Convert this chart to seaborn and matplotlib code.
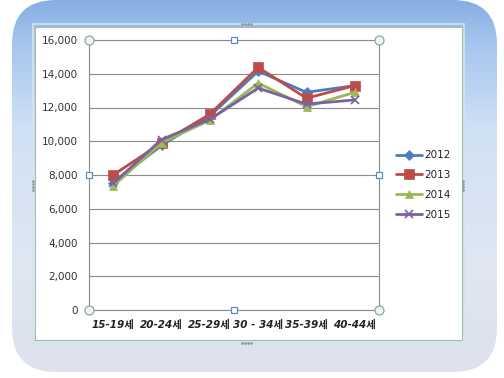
import numpy as np
import pandas as pd
import matplotlib
matplotlib.use("Agg")
import matplotlib.pyplot as plt
from matplotlib.patches import FancyBboxPatch, Rectangle
from matplotlib.colors import LinearSegmentedColormap
from matplotlib.ticker import FuncFormatter, FixedLocator
import seaborn as sns

# Age groups and births per year
age_groups = ["15-19세", "20-24세", "25-29세", "30 - 34세", "35-39세", "40-44세"]
years = ["2012", "2013", "2014", "2015"]
v2012 = [7550, 9750, 11500, 14150, 12900, 13300]
v2013 = [8000, 9900, 11600, 14380, 12550, 13300]
v2014 = [7350, 9900, 11250, 13450, 12050, 12900]
v2015 = [7500, 10100, 11300, 13150, 12200, 12450]

series = {"2012": v2012, "2013": v2013, "2014": v2014, "2015": v2015}
colors = {"2012": "#4A7EBB", "2013": "#BE4B48", "2014": "#98B954", "2015": "#7D60A0"}
markers = {"2012": "D", "2013": "s", "2014": "^", "2015": "x"}
msizes = {"2012": 5, "2013": 6.5, "2014": 6, "2015": 6}

df = pd.DataFrame(
    [(i, age_groups[i], y, series[y][i]) for y in years for i in range(len(age_groups))],
    columns=["pos", "age", "year", "value"],
)

sns.set_style("white")
plt.rcParams["font.family"] = ["DejaVu Sans", "Noto Sans CJK KR"]

fig = plt.figure(figsize=(5.04, 3.78), dpi=100)
fig.patch.set_facecolor("white")

# Background: rounded frame with vertical blue gradient
bg = fig.add_axes([0, 0, 1, 1])
bg.set_xlim(0, 504)
bg.set_ylim(378, 0)
bg.axis("off")
cmap = LinearSegmentedColormap.from_list(
    "frame",
    [(0.0, "#86afe4"), (0.12, "#a7c6ee"), (0.35, "#d0e1f5"),
     (0.7, "#dfe7f3"), (1.0, "#dde2ec")],
)
grad = np.linspace(0, 1, 256).reshape(-1, 1)
frame = FancyBboxPatch((12, 0), 485, 372, boxstyle="round,pad=0,rounding_size=44",
                       transform=bg.transData, facecolor="none", edgecolor="none")
bg.add_patch(frame)
im = bg.imshow(grad, cmap=cmap, aspect="auto", extent=[12, 497, 372, 0], zorder=0)
im.set_clip_path(frame)

# Chart area
bg.add_patch(Rectangle((33, 24), 431, 319, facecolor="none", edgecolor="#d3e6e6", lw=1.2, zorder=1))
bg.add_patch(Rectangle((35, 27), 427, 313, facecolor="white", edgecolor="#a9b7b7", lw=0.8, zorder=2))
for (hx, hy) in [(246, 24), (246, 343)]:
    bg.plot([hx - 4.5, hx - 1.5, hx + 1.5, hx + 4.5], [hy] * 4, ls="none", marker="o",
            ms=0.9, color="#8a9a9a", zorder=3)
for (hx, hy) in [(33, 185), (463, 185)]:
    bg.plot([hx] * 4, [hy - 4.5, hy - 1.5, hy + 1.5, hy + 4.5], ls="none", marker="o",
            ms=0.9, color="#8a9a9a", zorder=3)

# Plot area
ax = fig.add_axes([89 / 504, 1 - 310 / 378, 290 / 504, 270 / 378])
ax.set_facecolor("white")
for y in years:
    sub = df[df["year"] == y]
    sns.lineplot(data=sub, x="pos", y="value", ax=ax, color=colors[y], lw=2.0,
                 marker=markers[y], markersize=msizes[y], markeredgecolor=colors[y],
                 markeredgewidth=1.2 if y == "2015" else 0.5, label=y, zorder=3)

ax.set_xlim(-0.5, len(age_groups) - 0.5)
ax.set_ylim(0, 16000)
ax.set_yticks(np.arange(0, 16001, 2000))
ax.yaxis.set_major_formatter(FuncFormatter(lambda v, p: f"{int(v):,}"))
ax.grid(axis="y", color="#8c8c8c", lw=0.8)
ax.set_axisbelow(True)
ax.set_xticks(range(len(age_groups)))
ax.set_xticklabels(age_groups, fontsize=7.5, fontweight="bold", style="italic", color="#222222")
ax.xaxis.set_minor_locator(FixedLocator(np.arange(0.5, len(age_groups) - 0.5, 1)))
ax.tick_params(axis="x", which="major", length=0, pad=7)
ax.tick_params(axis="x", which="minor", length=3, width=0.8, color="#8c8c8c", direction="out")
ax.tick_params(axis="y", length=3, width=0.8, color="#8c8c8c", direction="out", pad=5,
               labelsize=7.5, labelcolor="#333333")
ax.set_xlabel("")
ax.set_ylabel("")
for s in ax.spines.values():
    s.set_visible(True)
    s.set_color("#8c8c8c")
    s.set_linewidth(0.8)

# Selection handles on the plot area
ax.plot([0, 1, 0, 1], [0, 0, 1, 1], ls="none", marker="o", ms=6.5, mfc="#eef4ef",
        mec="#8fa5a2", mew=0.9, transform=ax.transAxes, clip_on=False, zorder=5)
ax.plot([0.5, 0.5, 0, 1], [0, 1, 0.5, 0.5], ls="none", marker="s", ms=5, mfc="white",
        mec="#5b8db5", mew=0.9, transform=ax.transAxes, clip_on=False, zorder=5)

leg = ax.legend(loc="center left", bbox_to_anchor=(396 / 504, 1 - 185 / 378),
                bbox_transform=fig.transFigure, frameon=False, fontsize=7.5,
                handlelength=2.5, handletextpad=0.2, labelspacing=0.95,
                borderpad=0, borderaxespad=0)
for t in leg.get_texts():
    t.set_color("#222222")

fig.savefig("out.png", dpi=100)
